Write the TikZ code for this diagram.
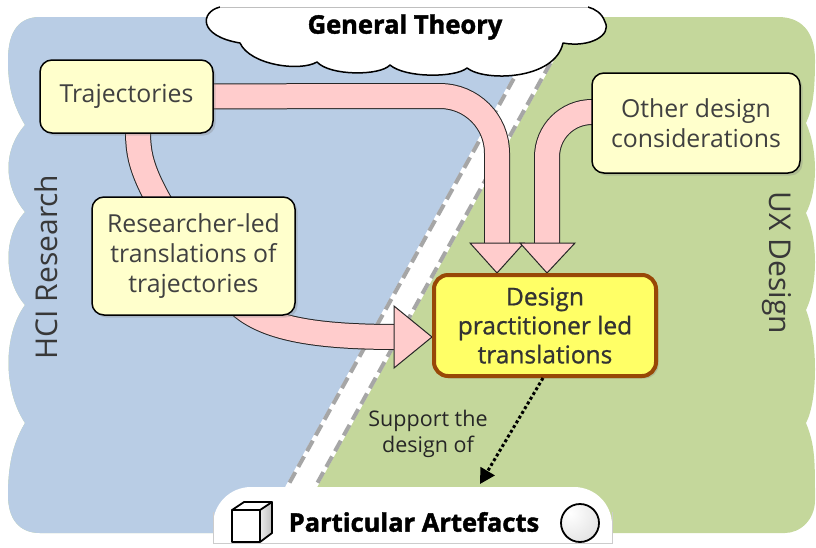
\documentclass[tikz,border=0pt]{standalone}
\usepackage{fontspec}
\setmainfont{Open Sans}
\newfontfamily\xbold[BoldFeatures={FakeBold=1.6}]{Open Sans}
\newfontfamily\semib[FakeBold=0.9]{Open Sans}
\usetikzlibrary{shadows,arrows.meta,calc}
\definecolor{bgblue}{HTML}{B9CDE5}
\definecolor{bggreen}{HTML}{C4D79B}
\definecolor{boxyellow}{HTML}{FFFFCC}
\definecolor{mainyellow}{HTML}{FFFF66}
\definecolor{mainbrown}{HTML}{984807}
\definecolor{pinkfill}{HTML}{FFCCCC}
\definecolor{txtgrey}{HTML}{404040}
\definecolor{dashgrey}{HTML}{A6A6A6}
\newcommand{\bxfont}{\fontsize{24.8}{30}\selectfont}
\pgfdeclarelayer{bglayer}
\pgfdeclarelayer{bandlayer}
\pgfsetlayers{bglayer,bandlayer,main}
\begin{document}
\begin{tikzpicture}[x=1pt,y=-1pt,
  box/.style={draw=black, line width=1.5pt, fill=boxyellow, rounded corners=12pt,
    align=center, text=txtgrey, font=\bxfont, inner sep=0pt,
    drop shadow={shadow xshift=2.5pt, shadow yshift=-2.5pt, opacity=0.3}},
  mainbox/.style={box, draw=mainbrown, line width=4pt, fill=mainyellow, rounded corners=14pt,
    font=\semib\fontsize{24.5}{29}\selectfont, text=black!80},
  band/.style={draw=black!85, line width=1pt, double=pinkfill, double distance=24pt},
  head/.style={fill=pinkfill, draw=black!85, line width=1pt, line join=miter},
  sidelabel/.style={text=black!78, font=\fontsize{30}{36}\selectfont, inner sep=0pt},
  boldlabel/.style={text=black, font=\xbold\bfseries\fontsize{25.5}{30}\selectfont, inner sep=0pt},
  dotarrow/.style={line width=3pt, dash pattern=on 3pt off 2.5pt, -{Triangle[length=15pt,width=16pt]}}
]
\useasboundingbox (0,0) rectangle (816,547);

% ---------- background ----------
\begin{pgfonlayer}{bglayer}
\begin{scope}
\clip (40,17) -- (778,17) .. controls (800,17) and (815,30) .. (815,60)
  .. controls (815,95) and (812,110) .. (806,123)
  .. controls (818,150) and (818,190) .. (806,213)
  .. controls (818,240) and (818,285) .. (806,310)
  .. controls (818,340) and (818,400) .. (806,423)
  .. controls (815,445) and (815,460) .. (815,500)
  .. controls (815,520) and (800,533) .. (785,533)
  -- (40,533) .. controls (20,533) and (8,520) .. (8,495)
  .. controls (8,460) and (15,440) .. (25,423)
  .. controls (3,390) and (3,335) .. (25,305)
  .. controls (3,280) and (3,235) .. (25,212)
  .. controls (3,185) and (3,150) .. (25,125)
  .. controls (10,100) and (8,80) .. (8,60)
  .. controls (8,30) and (20,17) .. (40,17) -- cycle;
\fill[bggreen] (0,0) rectangle (816,547);
\fill[bgblue] (0,0) -- (557.4,0) -- (253.8,547) -- (0,547) -- cycle;
\fill[white] (555.4,0) -- (587.4,0) -- (283.8,547) -- (251.8,547) -- cycle;
\draw[dashgrey, line width=4pt, dash pattern=on 12pt off 6pt] (557.4,0) -- (253.8,547);
\draw[dashgrey, line width=4pt, dash pattern=on 12pt off 6pt] (585.4,0) -- (281.8,547);
\end{scope}
\end{pgfonlayer}

% ---------- nodes ----------
\node[box, minimum width=173pt, minimum height=73pt] (traj) at (126.5,96.5) {Trajectories};
\node[box, minimum width=203pt, minimum height=118pt] (res) at (193.5,256) {Researcher-led\\translations of\\trajectories};
\node[box, minimum width=208pt, minimum height=100pt] (other) at (696,123) {Other design\\considerations};
\node[mainbox, minimum width=222pt, minimum height=101pt] (main) at (545,325.5) {Design\\practitioner led\\translations};

% ---------- pink connectors ----------
\begin{pgfonlayer}{bandlayer}
\coordinate (c1) at (497,0);
\coordinate (c2) at (547,0);
\draw[band] (traj.center) -- (440,96) .. controls (471.5,96) and (497,121.5) .. (497,153) -- (497,246);
\draw[head] ($(c1 |- main.north)+(-27,-30)$) -- ($(c1 |- main.north)+(27,-30)$) -- (c1 |- main.north) -- cycle;
\draw[band] (other.center) -- (592,112) .. controls (567,112) and (547,132) .. (547,157) -- (547,246);
\draw[head] ($(c2 |- main.north)+(-27,-30)$) -- ($(c2 |- main.north)+(28,-30)$) -- (c2 |- main.north) -- cycle;
\draw[band] (traj.center) -- (138,130) .. controls (138,160) and (142,180) .. (res.center);
\coordinate (c4) at (0,337);
\draw[band] (res.center) -- (235,300) .. controls (262,330) and (320,337) .. (398,337);
\draw[head] ($(main.west |- c4)+(-38,-31)$) -- ($(main.west |- c4)+(-38,31)$) -- (main.west |- c4) -- cycle;
\end{pgfonlayer}

% ---------- cloud ----------
\draw[fill=white, line width=1.5pt, line join=round]
  (220,7) .. controls (200,12) and (198,36) .. (240,43)
  .. controls (250,65) and (300,72) .. (317,62)
  .. controls (330,76) and (380,76) .. (390,65)
  .. controls (405,78) and (455,78) .. (467,68)
  .. controls (485,82) and (555,80) .. (563,43)
  .. controls (590,48) and (612,35) .. (605,22)
  .. controls (602,13) and (595,9) .. (588,7);
\fill[white] (221,7.5) -- (587,7.5) -- (587,30) -- (221,30) -- cycle;
\draw[black!25, line width=0.8pt] (220,7) -- (588,7);
\node[boldlabel] (gt) at (405,27) {General Theory};

% ---------- side labels ----------
\node[sidelabel, rotate=90] (hci) at (46,267) {HCI Research};
\node[sidelabel, rotate=-90] (ux) at (777,263) {UX Design};

% ---------- artefacts ----------
\fill[white, rounded corners=38pt] (213,620) -- (213,487) -- (612,487) -- (612,620) -- cycle;
\draw[black!20, line width=0.8pt] (213,512) -- (213,543) -- (612,543) -- (612,512);
\node[boldlabel] (pa) at (414,522) {Particular Artefacts};
% cube
\shade[left color=black!8, right color=black!25] (260,510) -- (272,502) -- (272,533) -- (260,542) -- cycle;
\draw[line width=1.8pt, line join=round] (232,510) rectangle (260,542);
\draw[line width=1.8pt, line join=round] (232,510) -- (244,502) -- (272,502) -- (260,510);
\draw[line width=1.8pt, line join=round] (272,502) -- (272,533) -- (260,542);
% ball
\begin{scope}
\clip (580,523) circle (19);
\shade[inner color=white, outer color=black!12] (570,513) circle (36);
\end{scope}
\draw[line width=1.8pt] (580,523) circle (19);

% ---------- dotted connector ----------
\node[text=black!85, font=\fontsize{21.5}{26}\selectfont, align=center, inner sep=0pt] (sup) at (428,434) {Support the\\design of};
\coordinate (dt) at (480,484);
\draw[dotarrow] ([xshift=-2pt]main.south) -- (dt);
\end{tikzpicture}
\end{document}
